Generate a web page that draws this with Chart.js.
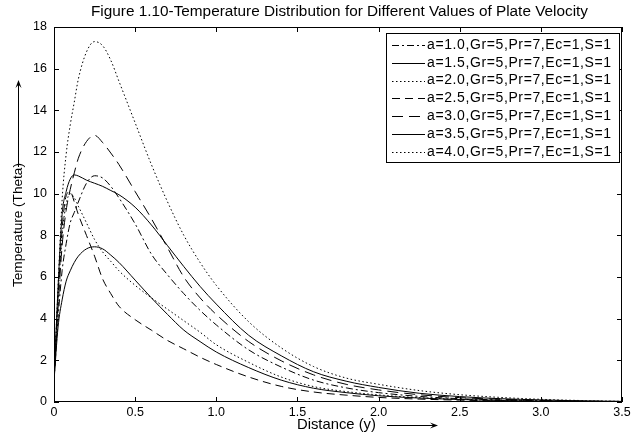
<!DOCTYPE html>
<html>
<head>
<meta charset="utf-8">
<script src="https://cdn.jsdelivr.net/npm/chart.js@4.4.0/dist/chart.umd.min.js"></script>
<style>
    html, body { margin: 0; padding: 0; background: #fff; }
    #wrap { width: 634px; height: 440px; }
</style>
</head>
<body>
<div id="wrap"><canvas id="temperature-chart" width="634" height="440"></canvas></div>
<script>
// distance (y) sample points shared by every curve
const distance = [0, 0.025, 0.05, 0.075, 0.1, 0.125, 0.15, 0.2, 0.25, 0.3, 0.35, 0.4, 0.5, 0.6, 0.7,
    0.8, 0.9, 1.0, 1.2, 1.4, 1.6, 1.8, 2.0, 2.25, 2.5, 2.75, 3.0, 3.25, 3.5];

// temperature (theta), one array per plate velocity a
const thetaA10 = [1, 4.0, 6.3, 7.6, 8.6, 9.1, 9.6, 10.5, 10.86, 10.75, 10.35, 9.8, 8.55, 7.1, 6.1,
    5.2, 4.4, 3.7, 2.5, 1.68, 1.05, 0.68, 0.45, 0.27, 0.16, 0.1, 0.06, 0.035, 0.02];
const thetaA15 = [1, 3.6, 4.9, 5.8, 6.3, 6.7, 7.0, 7.35, 7.45, 7.35, 7.05, 6.7, 5.85, 5.0, 4.2,
    3.45, 2.9, 2.4, 1.65, 1.05, 0.66, 0.45, 0.3, 0.19, 0.12, 0.07, 0.04, 0.025, 0.015];
const thetaA20 = [1, 5.0, 8.0, 9.5, 10.0, 9.8, 9.4, 8.6, 7.8, 7.2, 6.75, 6.3, 5.6, 5.0, 4.45,
    3.9, 3.35, 2.75, 1.9, 1.2, 0.74, 0.5, 0.34, 0.21, 0.13, 0.08, 0.05, 0.03, 0.015];
const thetaA25 = [1, 5.0, 8.3, 9.9, 10.1, 9.6, 9.0, 8.0, 7.0, 5.9, 5.2, 4.6, 3.95, 3.45, 2.95,
    2.55, 2.15, 1.8, 1.2, 0.75, 0.48, 0.33, 0.22, 0.14, 0.09, 0.05, 0.03, 0.02, 0.01];
const thetaA30 = [1, 4.5, 7.5, 9.2, 10.2, 11.0, 11.7, 12.5, 12.8, 12.45, 11.95, 11.4, 10.1, 8.8, 7.4,
    6.0, 5.0, 4.2, 2.9, 1.98, 1.3, 0.85, 0.58, 0.35, 0.21, 0.13, 0.08, 0.045, 0.025];
const thetaA35 = [1, 5.5, 9.0, 10.1, 10.7, 10.9, 10.85, 10.65, 10.5, 10.35, 10.15, 9.95, 9.35, 8.5, 7.5,
    6.5, 5.55, 4.7, 3.2, 2.22, 1.45, 1.0, 0.7, 0.42, 0.26, 0.16, 0.1, 0.055, 0.03];
const thetaA40 = [1, 5.5, 9.7, 11.9, 13.3, 14.4, 15.5, 16.8, 17.3, 17.1, 16.4, 15.4, 13.4, 11.4, 9.6,
    8.0, 6.7, 5.6, 3.85, 2.6, 1.7, 1.15, 0.85, 0.55, 0.35, 0.22, 0.13, 0.07, 0.03];

const seriesLabels = [
    "a=1.0,Gr=5,Pr=7,Ec=1,S=1",
    "a=1.5,Gr=5,Pr=7,Ec=1,S=1",
    "a=2.0,Gr=5,Pr=7,Ec=1,S=1",
    "a=2.5,Gr=5,Pr=7,Ec=1,S=1",
    "a=3.0,Gr=5,Pr=7,Ec=1,S=1",
    "a=3.5,Gr=5,Pr=7,Ec=1,S=1",
    "a=4.0,Gr=5,Pr=7,Ec=1,S=1"
];
const seriesValues = [thetaA10, thetaA15, thetaA20, thetaA25, thetaA30, thetaA35, thetaA40];
const seriesDashes = [[7, 3, 2, 3], [], [1.5, 2.5], [8, 5], [11, 6], [], [1.5, 2.5]];

const xTicks = [0, 0.5, 1, 1.5, 2, 2.5, 3, 3.5];
const yTicks = [0, 2, 4, 6, 8, 10, 12, 14, 16, 18];

const chartTitle = "Figure 1.10-Temperature Distribution for Different Values of Plate Velocity";
const xTitle = "Distance (y)";
const yTitle = "Temperature (Theta)";

const FONT = '"Liberation Sans", Arial, Helvetica, sans-serif';

function toPoints(values) {
    return values.map((v, i) => ({ x: distance[i], y: v }));
}

// draw text scaled so it spans a given width
function fitText(ctx, text, x, y, width) {
    ctx.letterSpacing = "0px";
    ctx.font = "12px " + FONT;
    const size = 12 * width / ctx.measureText(text).width;
    ctx.font = size.toFixed(2) + "px " + FONT;
    ctx.fillText(text, x, y);
}

// draw text stretched with letter spacing so it spans a given width
function spacedText(ctx, text, x, y, width, size) {
    ctx.font = size + "px " + FONT;
    ctx.letterSpacing = "0px";
    const w = ctx.measureText(text).width;
    const sp = (width - w) / (text.length - 1);
    ctx.letterSpacing = sp.toFixed(2) + "px";
    ctx.fillText(text, x, y);
    ctx.letterSpacing = "0px";
}

function arrowHead(ctx, x, y, dx, dy) {
    // dx, dy unit direction of the arrow
    const len = 8, half = 3;
    ctx.beginPath();
    ctx.moveTo(x, y);
    ctx.lineTo(x - dx * len - dy * half, y - dy * len + dx * half);
    ctx.lineTo(x - dx * len * 0.6, y - dy * len * 0.6);
    ctx.lineTo(x - dx * len + dy * half, y - dy * len - dx * half);
    ctx.closePath();
    ctx.fill();
}

const matlabFrame = {
    id: "matlabFrame",
    afterDraw(chart) {
        const ctx = chart.ctx;
        const area = chart.chartArea;
        const xs = chart.scales.x;
        const ys = chart.scales.y;

        ctx.save();
        ctx.strokeStyle = "#000";
        ctx.fillStyle = "#000";
        ctx.lineWidth = 1;

        // box round the axes
        ctx.strokeRect(area.left + 0.5, area.top + 0.5, area.right - area.left - 1, area.bottom - area.top - 1);

        // inward ticks on all four sides
        ctx.beginPath();
        xTicks.forEach(v => {
            const px = Math.round(xs.getPixelForValue(v)) + 0.5;
            ctx.moveTo(px, area.bottom);
            ctx.lineTo(px, area.bottom - 5);
            ctx.moveTo(px, area.top);
            ctx.lineTo(px, area.top + 5);
        });
        yTicks.forEach(v => {
            const py = Math.round(ys.getPixelForValue(v)) + 0.5;
            ctx.moveTo(area.left, py);
            ctx.lineTo(area.left + 5, py);
            ctx.moveTo(area.right, py);
            ctx.lineTo(area.right - 5, py);
        });
        ctx.stroke();

        // title
        ctx.textBaseline = "middle";
        ctx.textAlign = "left";
        fitText(ctx, chartTitle, 91, 12, 497);

        // x axis title and arrow
        fitText(ctx, xTitle, 297, 425, 79);
        ctx.beginPath();
        ctx.moveTo(387, 425.5);
        ctx.lineTo(434, 425.5);
        ctx.stroke();
        arrowHead(ctx, 438, 425.5, 1, 0);

        // y axis title and arrow
        ctx.save();
        ctx.translate(18, 287);
        ctx.rotate(-Math.PI / 2);
        fitText(ctx, yTitle, 0, 0, 124);
        ctx.restore();
        ctx.beginPath();
        ctx.moveTo(18.5, 167);
        ctx.lineTo(18.5, 84);
        ctx.stroke();
        arrowHead(ctx, 18.5, 80, 0, -1);

        // legend inside the axes, top right
        const box = { left: 386, top: 33, right: 619, bottom: 162 };
        ctx.fillStyle = "#fff";
        ctx.fillRect(box.left, box.top, box.right - box.left, box.bottom - box.top);
        ctx.strokeRect(box.left + 0.5, box.top + 0.5, box.right - box.left, box.bottom - box.top);
        ctx.fillStyle = "#000";
        chart.data.datasets.forEach((ds, i) => {
            const cy = 45 + i * 17.8;
            ctx.save();
            ctx.setLineDash(ds.borderDash || []);
            ctx.beginPath();
            ctx.moveTo(392, Math.round(cy) + 0.5);
            ctx.lineTo(425, Math.round(cy) + 0.5);
            ctx.stroke();
            ctx.restore();
            spacedText(ctx, ds.label, 427, cy, 184, 14);
        });

        ctx.restore();
    }
};

const ctx = document.getElementById("temperature-chart");

new Chart(ctx, {
    type: "line",
    data: {
        datasets: seriesLabels.map((label, i) => ({
            label: label,
            data: toPoints(seriesValues[i]),
            borderColor: "#000",
            borderWidth: 1,
            borderDash: seriesDashes[i],
            pointRadius: 0,
            fill: false,
            cubicInterpolationMode: "monotone"
        }))
    },
    options: {
        responsive: false,
        animation: false,
        devicePixelRatio: 1,
        layout: {
            padding: { left: 0, top: 27, right: 12, bottom: 0 }
        },
        plugins: {
            legend: { display: false },
            tooltip: { enabled: false },
            title: { display: false }
        },
        scales: {
            x: {
                type: "linear",
                min: 0,
                max: 3.5,
                afterBuildTicks: (scale) => {
                    scale.ticks = xTicks.map(v => ({ value: v }));
                },
                afterFit: (scale) => {
                    scale.height = 38;
                },
                ticks: {
                    color: "#000",
                    padding: 3,
                    maxRotation: 0,
                    autoSkip: false,
                    font: { family: FONT, size: 12.5 }
                },
                grid: { display: false, drawTicks: false },
                border: { display: false }
            },
            y: {
                min: 0,
                max: 18,
                afterBuildTicks: (scale) => {
                    scale.ticks = yTicks.map(v => ({ value: v }));
                },
                afterFit: (scale) => {
                    scale.width = 54;
                },
                ticks: {
                    color: "#000",
                    padding: 7,
                    autoSkip: false,
                    font: { family: FONT, size: 12.5 }
                },
                grid: { display: false, drawTicks: false },
                border: { display: false }
            }
        }
    },
    plugins: [matlabFrame]
});
</script>
</body>
</html>
